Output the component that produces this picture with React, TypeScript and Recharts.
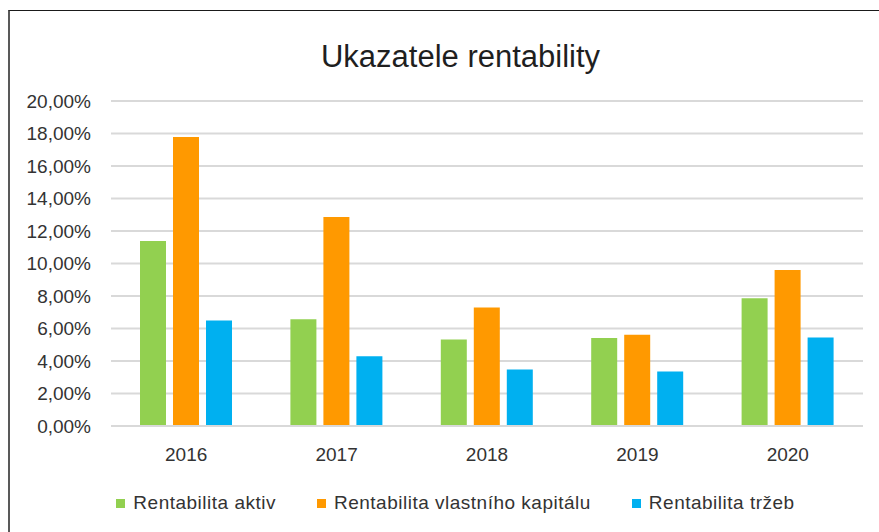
import React from "react";
import { BarChart, Bar, XAxis, YAxis, CartesianGrid, Legend } from "recharts";

const years = ["2016", "2017", "2018", "2019", "2020"];
const aktiv = [11.38, 6.57, 5.33, 5.42, 7.86];
const vlastniKapital = [17.78, 12.86, 7.30, 5.62, 9.60];
const trzby = [6.50, 4.29, 3.47, 3.35, 5.44];
const yTicks = [0, 2, 4, 6, 8, 10, 12, 14, 16, 18, 20];

const series = [
  { key: "aktiv", name: "Rentabilita aktiv", color: "#92D050" },
  { key: "vk", name: "Rentabilita vlastního kapitálu", color: "#FF9900" },
  { key: "trzby", name: "Rentabilita tržeb", color: "#00B0F0" },
];

const data = years.map((y, i) => ({
  year: y,
  aktiv: aktiv[i],
  vk: vlastniKapital[i],
  trzby: trzby[i],
}));

const FONT = "'Liberation Sans', Arial, sans-serif";
const pct = (v: number) => `${v.toFixed(2).replace(".", ",")}%`;

function LegendRow() {
  return (
    <div style={{ display: "flex", justifyContent: "center", alignItems: "center", height: 22, fontFamily: FONT, fontSize: 19, letterSpacing: 0.5, color: "#333" }}>
      {series.map((s, i) => (
        <span key={s.key} style={{ display: "inline-flex", alignItems: "center", marginLeft: i === 0 ? 0 : 41 }}>
          <span style={{ width: 9, height: 9, background: s.color, marginRight: 8, display: "inline-block" }} />
          <span>{s.name}</span>
        </span>
      ))}
    </div>
  );
}

export default function App() {
  return (
    <div style={{ position: "fixed", left: 0, top: 0, width: 879, height: 532, overflow: "hidden", background: "#fff" }}>
      <div style={{ position: "absolute", left: 8, top: 10, width: 920, height: 540, borderTop: "1px solid #1a1a1a", borderLeft: "2px solid #595959" }}>
        <div style={{ position: "absolute", left: 0, top: 30, width: 901, textAlign: "center", fontFamily: FONT, fontSize: 31, lineHeight: "31px", color: "#1f1f1f" }}>
          Ukazatele rentability
        </div>
        <BarChart
          width={900}
          height={519}
          data={data}
          margin={{ top: 90, right: 47, left: 0, bottom: 52 }}
          barSize={26}
          barGap={7}
        >
          <CartesianGrid vertical={false} stroke="#d9d9d9" strokeWidth={2} />
          <XAxis
            dataKey="year"
            height={30}
            tickSize={0}
            tickMargin={22}
            axisLine={{ stroke: "#d9d9d9", strokeWidth: 2 }}
            tickLine={false}
            tick={{ fill: "#333", fontSize: 19, fontFamily: FONT }}
          />
          <YAxis
            width={101}
            domain={[0, 20]}
            ticks={yTicks}
            tickFormatter={pct}
            tickSize={0}
            tickMargin={20}
            axisLine={false}
            tickLine={false}
            tick={{ fill: "#333", fontSize: 19, fontFamily: FONT }}
          />
          <Legend
            verticalAlign="bottom"
            content={() => <LegendRow />}
            wrapperStyle={{ left: 0, top: 481, bottom: "auto", width: 891, height: 22 }}
          />
          {series.map((s) => (
            <Bar key={s.key} dataKey={s.key} name={s.name} fill={s.color} isAnimationActive={false} />
          ))}
        </BarChart>
      </div>
    </div>
  );
}
